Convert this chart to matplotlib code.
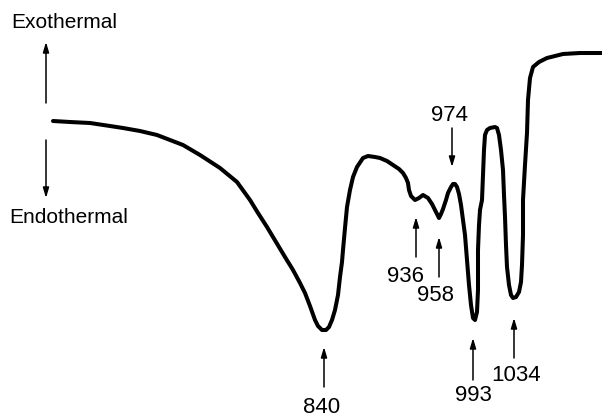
import matplotlib
matplotlib.use("Agg")
import matplotlib.pyplot as plt

plt.rcParams["font.family"] = ["Liberation Sans", "DejaVu Sans"]

# DTA trace (horizontal position, signal; screen-like units, down = endothermal)
trace_x = [53, 70, 90, 110, 123, 140, 157, 170, 183, 200, 220, 237, 250, 258, 267, 276,
           285, 293, 300, 305, 310, 315, 318, 322, 326, 329, 332, 335, 338, 340, 342, 343,
           345, 347, 350, 353, 357, 363, 368, 375, 380, 387, 393, 399, 403, 406, 408, 409,
           411, 415, 419, 423, 428, 432, 435, 439, 441, 443, 446, 448, 451, 453, 455, 457,
           459, 461, 463, 465, 467, 469, 471, 473, 475, 477, 478, 478, 479, 480, 482, 483,
           484, 485, 487, 490, 495, 497, 499, 501, 503, 504, 505, 506, 507, 509, 511, 513,
           516, 519, 521, 522, 523, 523, 525, 527, 528, 530, 533, 539, 547, 555, 563, 580, 602]
trace_y = [121, 122, 123, 126, 128, 131, 135, 140, 145, 155, 168, 182, 200, 213, 227, 242,
           257, 270, 283, 293, 306, 320, 326, 330, 330, 327, 320, 310, 295, 277, 262, 250,
           228, 207, 190, 177, 167, 158, 156, 157, 158, 161, 165, 169, 173, 178, 183, 190,
           196, 200, 198, 195, 198, 204, 210, 218, 214, 209, 200, 193, 187, 184, 184, 187,
           194, 205, 220, 235, 260, 285, 305, 318, 320, 312, 290, 250, 225, 210, 200, 175,
           150, 135, 130, 128, 127, 128, 135, 150, 170, 195, 217, 245, 267, 285, 295, 298,
           297, 292, 282, 265, 235, 200, 165, 133, 100, 78, 67, 62, 58, 56, 54, 53, 53]

# peak labels (deg C) with arrow tail, arrow tip and label position
peak_labels = ["840", "936", "958", "974", "993", "1034"]
arrow_x = [324, 416, 439, 452, 473, 514]
arrow_tail_y = [387, 257, 277, 128, 380, 358]
arrow_tip_y = [347, 217, 237, 167, 338, 318]
label_x = [322, 406, 435, 449, 473, 516]
label_y = [407, 276, 295, 115, 395, 375]

fig = plt.figure(figsize=(6.02, 4.19), dpi=100)
ax = fig.add_axes([0, 0, 1, 1])
ax.set_xlim(0, 602)
ax.set_ylim(419, 0)
ax.axis("off")

ax.plot(trace_x, trace_y, color="black", lw=2.9, solid_capstyle="round",
        solid_joinstyle="round")

arrow_props = dict(arrowstyle="-|>,head_length=0.6,head_width=0.18", color="black",
                   lw=1.1, shrinkA=0, shrinkB=0, mutation_scale=10)

for lab, xa, yt, yh, xl, yl in zip(peak_labels, arrow_x, arrow_tail_y, arrow_tip_y,
                                   label_x, label_y):
    ax.annotate("", xy=(xa, yh), xytext=(xa, yt), arrowprops=arrow_props)
    ax.text(xl, yl, lab, fontsize=16, ha="center", va="center")

# exo / endo direction markers
ax.annotate("", xy=(46, 42), xytext=(46, 103), arrowprops=arrow_props)
ax.annotate("", xy=(46, 198), xytext=(46, 140), arrowprops=arrow_props)
ax.text(11, 22, "Exothermal", fontsize=15, ha="left", va="center")
ax.text(9, 217, "Endothermal", fontsize=15, ha="left", va="center")

fig.savefig("out.png", dpi=100)
